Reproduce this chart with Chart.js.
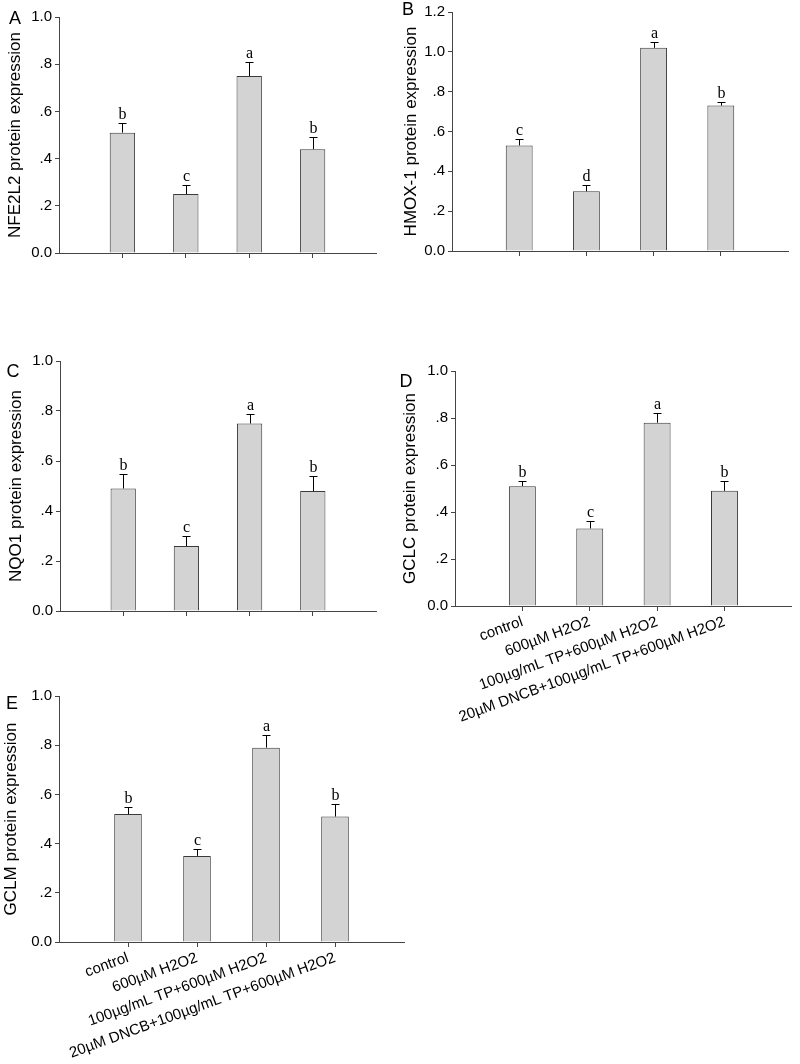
<!DOCTYPE html>
<html>
<head>
<meta charset="utf-8">
<script src="https://cdn.jsdelivr.net/npm/chart.js@4/dist/chart.umd.min.js"></script>
<style>
  html, body { margin: 0; padding: 0; background: #fff; }
  #wrap { position: relative; width: 800px; height: 1064px; background: #fff; }
  canvas { position: absolute; }
</style>
</head>
<body>
<div id="wrap">
  <canvas id="cA" width="400" height="290" style="left:0;top:0"></canvas>
  <canvas id="cB" width="400" height="290" style="left:400px;top:0"></canvas>
  <canvas id="cC" width="400" height="340" style="left:0;top:290px"></canvas>
  <canvas id="cD" width="400" height="440" style="left:400px;top:290px"></canvas>
  <canvas id="cE" width="420" height="394" style="left:0;top:670px"></canvas>
</div>
<script>
// ---- data ----
const groups = ['control', '600µM H2O2', '100µg/mL TP+600µM H2O2', '20µM DNCB+100µg/mL TP+600µM H2O2'];
const yTicks1 = [0, 0.2, 0.4, 0.6, 0.8, 1.0];
const yTicks12 = [0, 0.2, 0.4, 0.6, 0.8, 1.0, 1.2];

const nfe2l2Mean = [0.51, 0.25, 0.75, 0.44];
const nfe2l2Err  = [0.04, 0.04, 0.06, 0.05];
const nfe2l2Sig  = ['b', 'c', 'a', 'b'];

const hmox1Mean = [0.53, 0.30, 1.02, 0.73];
const hmox1Err  = [0.03, 0.03, 0.03, 0.02];
const hmox1Sig  = ['c', 'd', 'a', 'b'];

const nqo1Mean = [0.49, 0.26, 0.75, 0.48];
const nqo1Err  = [0.06, 0.04, 0.04, 0.06];
const nqo1Sig  = ['b', 'c', 'a', 'b'];

const gclcMean = [0.51, 0.33, 0.78, 0.49];
const gclcErr  = [0.02, 0.03, 0.04, 0.04];
const gclcSig  = ['b', 'c', 'a', 'b'];

const gclmMean = [0.52, 0.35, 0.79, 0.51];
const gclmErr  = [0.03, 0.03, 0.05, 0.05];
const gclmSig  = ['b', 'c', 'a', 'b'];

const SANS = "'Liberation Sans', Arial, sans-serif";
const SERIF = "'Liberation Serif', 'Times New Roman', serif";
const AXIS = '#444';

// error bars + letters + panel letter
const extrasPlugin = {
  id: 'extras',
  afterDatasetsDraw(chart, args, o) {
    const ctx = chart.ctx, x = chart.scales.x, y = chart.scales.y;
    ctx.save();
    ctx.strokeStyle = '#000';
    ctx.lineWidth = 1;
    o.mean.forEach((m, i) => {
      const px = Math.round(x.getPixelForValue(i + 1)) + 0.5;
      const y0 = y.getPixelForValue(m);
      const y1 = Math.round(y.getPixelForValue(m + o.err[i])) + 0.5;
      ctx.beginPath();
      ctx.moveTo(px, y0);
      ctx.lineTo(px, y1);
      ctx.moveTo(px - 4, y1);
      ctx.lineTo(px + 4, y1);
      ctx.stroke();
      ctx.fillStyle = '#000';
      ctx.font = '16px ' + SERIF;
      ctx.textAlign = 'center';
      ctx.textBaseline = 'alphabetic';
      ctx.fillText(o.sig[i], px, y1 - 5);
    });
    ctx.font = '18px ' + SANS;
    ctx.textAlign = 'center';
    ctx.textBaseline = 'middle';
    ctx.fillStyle = '#000';
    ctx.fillText(o.letter, o.lx, o.ly);
    ctx.restore();
  }
};

function fmt(v) {
  const r = Math.round(v * 10) / 10;
  if (r === 0) return '0.0';
  if (r >= 1) return r.toFixed(1);
  return r.toFixed(1).replace(/^0/, '');
}

function makePanel(id, p) {
  const labels = ['', ...groups, ''];
  const data = [null, ...p.mean, null];
  const ticks = p.yTicks;
  return new Chart(document.getElementById(id), {
    type: 'bar',
    data: {
      labels: labels,
      datasets: [{
        data: data,
        backgroundColor: '#d3d3d3',
        borderColor: '#3a3a3a',
        borderWidth: 1,
        barPercentage: 0.4,
        categoryPercentage: 1
      }]
    },
    options: {
      responsive: false,
      animation: false,
      layout: { padding: p.pad },
      plugins: {
        legend: { display: false },
        tooltip: { enabled: false },
        extras: { mean: p.mean, err: p.err, sig: p.sig, letter: p.letter, lx: p.lx, ly: p.ly }
      },
      scales: {
        x: {
          offset: false,
          grid: {
            offset: false,
            drawOnChartArea: false,
            tickLength: 5,
            color: c => (c.index === 0 || c.index === labels.length - 1) ? 'rgba(0,0,0,0)' : AXIS
          },
          border: { color: AXIS, width: 1 },
          ticks: {
            display: p.showX,
            autoSkip: false,
            minRotation: 20,
            maxRotation: 20,
            padding: 2,
            color: '#000',
            font: { family: SANS, size: 15 }
          },
          afterFit: s => { s.height = p.xH; }
        },
        y: {
          min: ticks[0],
          max: ticks[ticks.length - 1],
          grid: { drawOnChartArea: false, tickLength: 4, color: AXIS },
          border: { color: AXIS, width: 1 },
          ticks: {
            stepSize: 0.2,
            padding: 3,
            color: '#000',
            font: { family: SANS, size: 15 },
            callback: v => fmt(v)
          },
          title: {
            display: true,
            text: p.title,
            color: '#000',
            padding: 0,
            font: { family: SANS, size: 17 }
          },
          afterFit: s => { s.width = p.yW; }
        }
      }
    },
    plugins: [extrasPlugin]
  });
}

makePanel('cA', {
  mean: nfe2l2Mean, err: nfe2l2Err, sig: nfe2l2Sig, yTicks: yTicks1,
  title: 'NFE2L2 protein expression', letter: 'A', lx: 15, ly: 19,
  pad: { left: 5, top: 17, right: 24, bottom: 0 }, yW: 54, xH: 37, showX: false
});
makePanel('cB', {
  mean: hmox1Mean, err: hmox1Err, sig: hmox1Sig, yTicks: yTicks12,
  title: 'HMOX-1 protein expression', letter: 'B', lx: 8, ly: 10,
  pad: { left: 1, top: 12, right: 12, bottom: 0 }, yW: 51, xH: 39, showX: false
});
makePanel('cC', {
  mean: nqo1Mean, err: nqo1Err, sig: nqo1Sig, yTicks: yTicks1,
  title: 'NQO1 protein expression', letter: 'C', lx: 13, ly: 82,
  pad: { left: 6, top: 71, right: 24, bottom: 0 }, yW: 54, xH: 19, showX: false
});
makePanel('cD', {
  mean: gclcMean, err: gclcErr, sig: gclcSig, yTicks: yTicks1,
  title: 'GCLC protein expression', letter: 'D', lx: 6, ly: 92,
  pad: { left: 0, top: 81, right: 3, bottom: 0 }, yW: 55, xH: 124, showX: true
});
makePanel('cE', {
  mean: gclmMean, err: gclmErr, sig: gclmSig, yTicks: yTicks1,
  title: 'GCLM protein expression', letter: 'E', lx: 12, ly: 34,
  pad: { left: 1, top: 26, right: 16, bottom: 0 }, yW: 58, xH: 122, showX: true
});
</script>
</body>
</html>
